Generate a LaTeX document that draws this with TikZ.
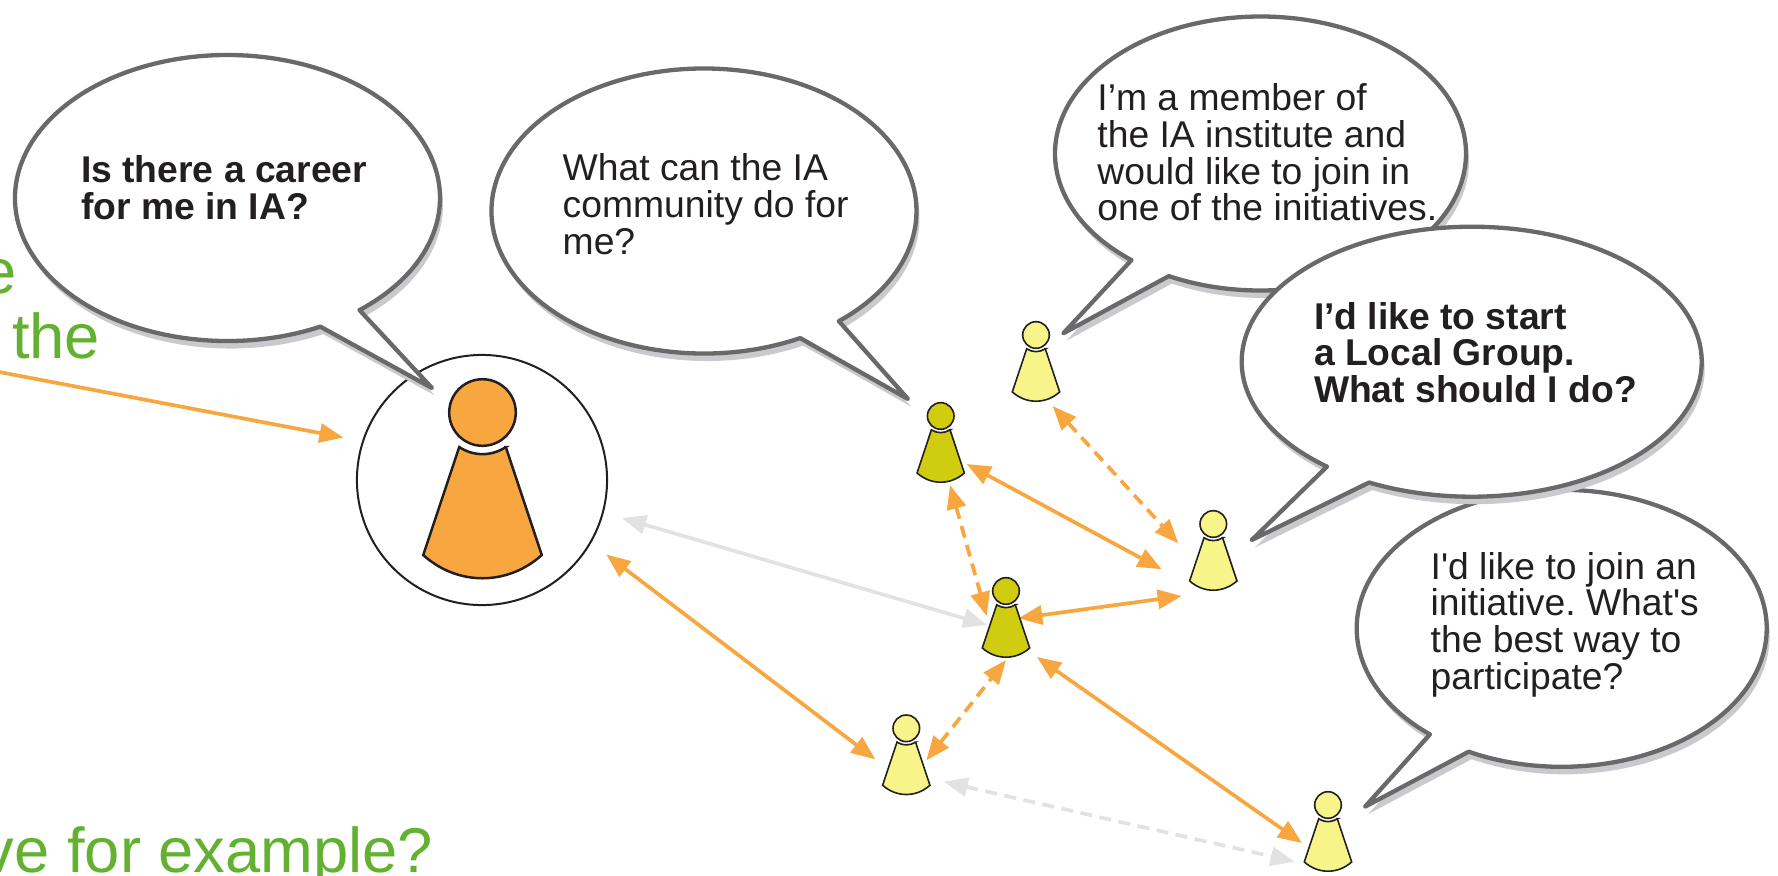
\documentclass[tikz,border=0pt]{standalone}
\usepackage{fontspec}
\setmainfont{Liberation Sans}[Ligatures=TeXOff]
\usetikzlibrary{arrows.meta, calc, positioning}
\frenchspacing

\definecolor{ink}{RGB}{35,31,32}
\definecolor{bubbleline}{RGB}{105,105,105}
\definecolor{bubbleshade}{RGB}{201,202,205}
\definecolor{linkorange}{RGB}{247,166,64}
\definecolor{linkgrey}{RGB}{226,226,226}
\definecolor{pawnlight}{RGB}{247,244,138}
\definecolor{pawnolive}{RGB}{208,204,16}
\definecolor{slidegreen}{RGB}{99,177,49}

\tikzset{
  bubble/.style={fill=white, draw=bubbleline, line width=0.043cm, line join=round},
  say/.style={anchor=north west, inner sep=0pt, align=left, text=ink, font=\fontsize{10.6}{10.45}\selectfont},
  saybold/.style={say, font=\fontsize{10.6}{10.45}\selectfont\bfseries},
  slide/.style={inner sep=0pt, text=slidegreen, font=\fontsize{18}{21}\selectfont},
  link/.style={draw=linkorange, line width=0.037cm, <->},
  faint/.style={link, draw=linkgrey},
  broken/.style={dash pattern=on 0.12cm off 0.075cm},
  small pawn/.style={fill=#1, draw=ink, line width=0.016cm, scale=13.3},
  pics/pawn/.style={code={
    \path[pic actions] (0,0) circle[radius=1];
    \path[pic actions] (56:1.25) -- (1.78,4.28) .. controls (0.75,5.21) and (-0.75,5.21) .. (-1.78,4.28)
      -- (124:1.25) arc[start angle=124, end angle=56, radius=1.25] -- cycle;
  }}
}

% ellipse centre, radii, arc from/to angle, tip of the tail
\newcommand{\speech}[8]{%
  \fill[bubbleshade, shift={(3,7.5)}] ([shift={(#5:#3 and #4)}]#1,#2)
    arc[start angle=#5, end angle=#6, x radius=#3, y radius=#4] -- (#7,#8) -- cycle;
  \draw[bubble] ([shift={(#5:#3 and #4)}]#1,#2)
    arc[start angle=#5, end angle=#6, x radius=#3, y radius=#4] -- (#7,#8) -- cycle;
}

\begin{document}
\begin{tikzpicture}[x=0.01cm, y=-0.01cm, >={Triangle[length=0.24cm,width=0.19cm]}]
    \useasboundingbox (0,0) rectangle (1778,875);
    \clip (0,0) rectangle (1778,875);

    \node (slideA) at (17,293) [slide, anchor=base east] {e};
    \node (slideB) at (11.5,358) [slide, anchor=base west] {the};
    \node (slideC) at (434,872) [slide, anchor=base east] {ve for example?};

    \node (me) at (482,480) [circle, draw=ink, fill=white, line width=0.02cm, minimum size=2.5cm, inner sep=0pt] {};
    \pic[fill=linkorange, draw=ink, line width=0.025cm, scale=33.3] at ($(me)+(0.5,-67.5)$) {pawn};

    \speech{227.5}{198}{212.5}{143}{64.1}{411.6}{432}{388}
    \node (career) at (80.4,155) [saybold] {Is there a career\\for me in IA?};
    \speech{704}{211}{212.5}{142.5}{63.1}{410.6}{908}{399}
    \node (community) at (562,153) [say] {What can the IA\\community do for\\me?};
    \speech{1260.5}{153.5}{205.5}{137}{128.9}{476.5}{1063.3}{333.3}
    \node (member) at (1096.7,83) [say] {I’m a member of\\the IA institute and\\would like to join in\\one of the initiatives.};
    \speech{1561.7}{628.3}{205}{138.5}{130}{477}{1365}{806.7}
    \node (initiative) at (1430,551.3) [say] {I'd like to join an\\initiative. What's\\the best way to\\participate?};
    \speech{1471.7}{361.7}{230}{135}{129}{476.5}{1251.7}{540}
    \node (localgroup) at (1313.3,301.3) [saybold] {I’d like to start\\a Local Group.\\What should I do?};

    \coordinate (offleft) at (-40,364.5);
    \coordinate (p1) at (1036,335);
    \coordinate (p2) at (940.7,416);
    \coordinate (p3) at (1213.3,524);
    \coordinate (p4) at (1006,591);
    \coordinate (p5) at (906.3,728.3);
    \coordinate (p6) at (1328,805);

    \draw[link, ->, shorten >=0.19cm] (offleft) -- (me.162);
    \draw[faint, shorten <=0.19cm] (me.345) -- ($(p4)+(-19,34)$);
    \draw[link, shorten <=0.19cm] (me.330) -- ($(p5)+(-31,31)$);
    \draw[link, broken] ($(p5)+(20,32)$) -- ($(p4)+(0,69)$);
    \draw[link] ($(p4)+(31,66)$) -- ($(p6)+(-26,38)$);
    \draw[faint, broken] ($(p5)+(37.5,53.4)$) -- ($(p6)+(-33.4,56.7)$);
    \draw[link, broken] ($(p2)+(9.3,69)$) -- ($(p4)+(-19.3,25)$);
    \draw[link] ($(p2)+(26,48)$) -- ($(p3)+(-51.6,45.3)$);
    \draw[link, broken] ($(p1)+(16.7,71)$) -- ($(p3)+(-35,19.3)$);
    \draw[link] ($(p4)+(12.3,27.3)$) -- ($(p3)+(-31.6,72)$);

    \foreach \p/\c in {p1/pawnlight, p2/pawnolive, p3/pawnlight, p4/pawnolive, p5/pawnlight, p6/pawnlight}
        \pic[small pawn=\c] at (\p) {pawn};
\end{tikzpicture}
\end{document}
